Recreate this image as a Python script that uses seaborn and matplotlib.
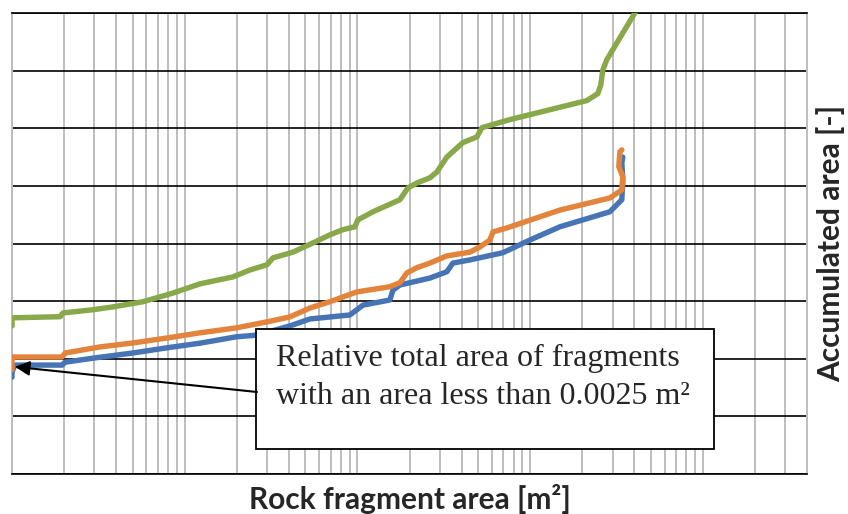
import matplotlib
matplotlib.use("Agg")
import matplotlib.pyplot as plt
import seaborn as sns
import numpy as np
import pandas as pd
from matplotlib.ticker import LogLocator, NullFormatter, MultipleLocator
from matplotlib.patches import Rectangle

# ---- data ----
green_x = [0.001, 0.001, 0.0019, 0.00197, 0.00294, 0.00384, 0.00573, 0.00855, 0.01225, 0.0190,
           0.0238, 0.0299, 0.0324, 0.0423, 0.0552, 0.0692, 0.0823, 0.0966, 0.1005, 0.1228,
           0.176, 0.1957, 0.2207, 0.2624, 0.288, 0.329, 0.407, 0.491, 0.525, 0.762,
           2.126, 2.46, 2.56, 2.631, 2.775, 4.03, 4.61]
green_y = [0.257, 0.271, 0.273, 0.2795, 0.285, 0.290, 0.299, 0.314, 0.330, 0.342,
           0.354, 0.363, 0.375, 0.385, 0.401, 0.415, 0.424, 0.429, 0.441, 0.455,
           0.476, 0.4965, 0.505, 0.514, 0.524, 0.550, 0.575, 0.585, 0.601, 0.615,
           0.648, 0.660, 0.675, 0.701, 0.719, 0.800, 0.832]

orange_x = [0.001, 0.001, 0.00101, 0.00195, 0.00203, 0.00323, 0.00501, 0.00789, 0.01225, 0.0198,
            0.0299, 0.0406, 0.0530, 0.0692, 0.0992, 0.154, 0.176, 0.1932, 0.2207, 0.2624,
            0.329, 0.447, 0.511, 0.584, 0.608, 0.732, 1.484, 2.888, 3.389, 3.435,
            3.256, 3.300, 3.389]
orange_y = [0.181, 0.201, 0.203, 0.203, 0.210, 0.2205, 0.2274, 0.236, 0.245, 0.2535,
            0.264, 0.2726, 0.288, 0.299, 0.316, 0.325, 0.332, 0.349, 0.358, 0.366,
            0.3785, 0.385, 0.394, 0.406, 0.420, 0.427, 0.458, 0.479, 0.493, 0.516,
            0.533, 0.559, 0.5625]

blue_x = [0.001, 0.001, 0.00104, 0.00195, 0.00203, 0.00294, 0.00501, 0.00789, 0.01225, 0.0198,
          0.0262, 0.0406, 0.0530, 0.0904, 0.1075, 0.154, 0.1603, 0.176, 0.2624, 0.329,
          0.3565, 0.447, 0.694, 0.995, 1.484, 2.888, 3.389, 3.435, 3.389, 3.435]
blue_y = [0.168, 0.177, 0.189, 0.189, 0.194, 0.201, 0.210, 0.219, 0.227, 0.238,
          0.241, 0.257, 0.269, 0.276, 0.293, 0.302, 0.319, 0.328, 0.340, 0.351,
          0.366, 0.3715, 0.384, 0.406, 0.429, 0.455, 0.476, 0.510, 0.540, 0.550]

arrow_target = (0.00104, 0.186)

x_label = "Rock fragment area [m²]"
y_label = "Accumulated area [-]"
note_line1 = "Relative total area of fragments"
note_line2 = "with an area less than 0.0025 m²"

series = [("blue", blue_x, blue_y, "#4674b4"),
          ("orange", orange_x, orange_y, "#e3843c"),
          ("green", green_x, green_y, "#88a84a")]

# ---- figure ----
sns.set_style("white")
fig = plt.figure(figsize=(8.48, 5.14), dpi=100)
ax = fig.add_axes([12/848, 1-474/514, (807-12)/848, (474-13)/514])

for name, xs, ys, col in series:
    df = pd.DataFrame({"x": xs, "y": ys})
    sns.lineplot(data=df, x="x", y="y", sort=False, estimator=None, ax=ax,
                 color=col, lw=3.9, solid_joinstyle="round", solid_capstyle="round", zorder=3)

ax.set_xscale("log")
ax.set_xlim(0.001, 40)
ax.set_ylim(0, 0.8)
ax.xaxis.set_major_locator(LogLocator(base=10, numticks=20))
ax.xaxis.set_minor_locator(LogLocator(base=10, subs=np.arange(2, 10), numticks=100))
ax.xaxis.set_major_formatter(NullFormatter())
ax.xaxis.set_minor_formatter(NullFormatter())
ax.yaxis.set_major_locator(MultipleLocator(0.1))
ax.yaxis.set_major_formatter(NullFormatter())
ax.tick_params(which="both", length=0)

ax.set_axisbelow(True)
ax.grid(True, which="both", axis="x", color="#bdbdbd", lw=1.4)
ax.grid(True, which="major", axis="y", color="black", lw=1.2)
for s in ["top", "bottom"]:
    ax.spines[s].set_color("black")
    ax.spines[s].set_linewidth(1.2)
for s in ["left", "right"]:
    ax.spines[s].set_color("#bdbdbd")
    ax.spines[s].set_linewidth(1.4)

ax.set_xlabel(x_label, fontsize=21.5, fontweight="bold", family=["Lato", "DejaVu Sans"], labelpad=4)
ax.yaxis.set_label_position("right")
ax.set_ylabel(y_label, fontsize=21.5, fontweight="bold", family=["Lato", "DejaVu Sans"], labelpad=7)

# annotation box
bx0, bx1 = (256-12)/795, (714-12)/795
by0, by1 = (474-449)/461, (474-329)/461
ax.add_patch(Rectangle((bx0, by0), bx1-bx0, by1-by0, transform=ax.transAxes,
                       facecolor="white", edgecolor="black", lw=1.3, zorder=5))
ax.text((276-12)/795, (474-358)/461, note_line1, transform=ax.transAxes, va="center", ha="left",
        fontsize=23, family=["Liberation Serif", "DejaVu Serif"], zorder=6)
ax.text((276-12)/795, (474-397)/461, note_line2, transform=ax.transAxes, va="center", ha="left",
        fontsize=23, family=["Liberation Serif", "DejaVu Serif"], zorder=6)
ax.annotate("", xy=arrow_target, xycoords="data",
            xytext=((257-12)/795, (474-392)/461), textcoords="axes fraction",
            arrowprops=dict(arrowstyle="-|>", color="black", lw=1.5, mutation_scale=22,
                            shrinkA=0, shrinkB=0), zorder=6)

fig.savefig("out.png", dpi=100)
